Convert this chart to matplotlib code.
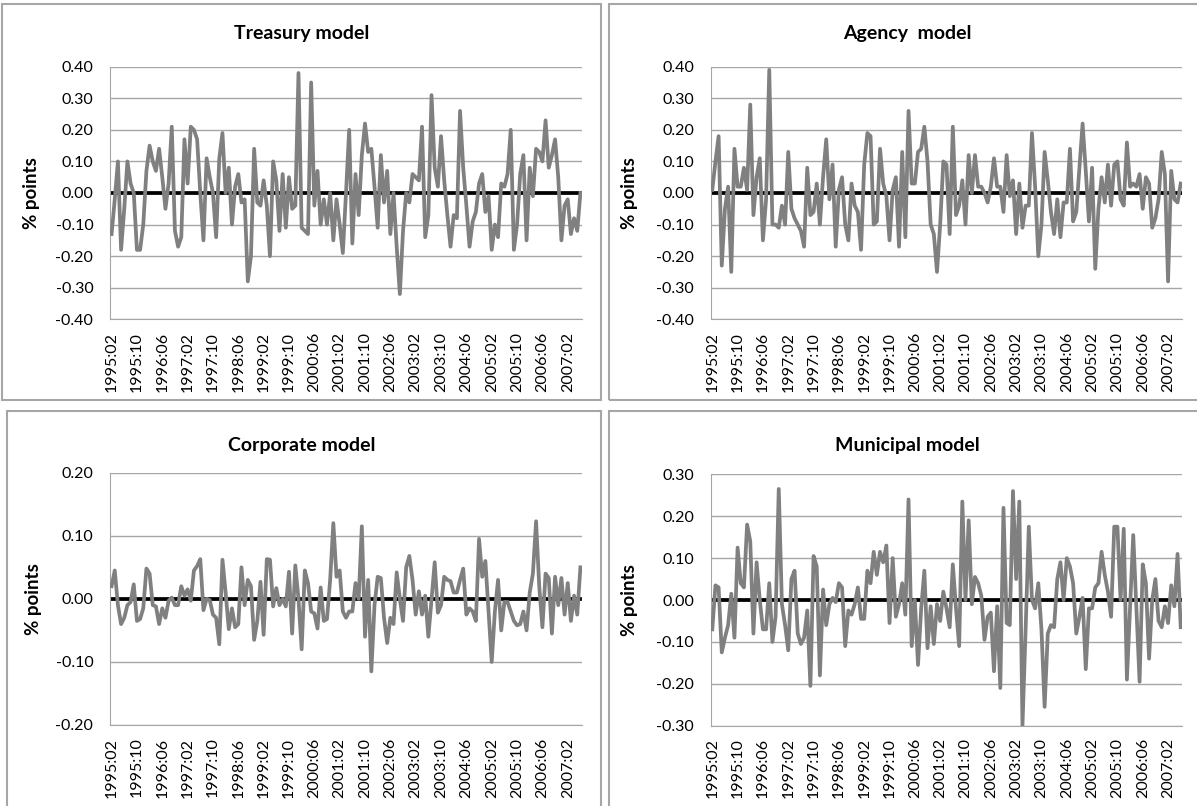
import matplotlib
matplotlib.use("Agg")
import matplotlib.pyplot as plt
from matplotlib.patches import Rectangle

plt.rcParams['font.family'] = ['Lato', 'DejaVu Sans']

# monthly categories 1995:02 .. 2007:06
months = []
for y in range(1995, 2008):
    for m in range(1, 13):
        if (y == 1995 and m < 2) or (y == 2007 and m > 6):
            continue
        months.append("%d:%02d" % (y, m))

treasury = [-0.13, -0.02, 0.10, -0.18, -0.05, 0.10, 0.03, 0.00, -0.18, -0.18,
            -0.10, 0.07, 0.15, 0.10, 0.07, 0.14, 0.05, -0.05, 0.03, 0.21,
            -0.12, -0.17, -0.14, 0.17, 0.03, 0.21, 0.20, 0.17, 0.00, -0.15,
            0.11, 0.05, 0.00, -0.14, 0.11, 0.19, 0.00, 0.08, -0.10, 0.02,
            0.06, -0.03, -0.02, -0.28, -0.20, 0.14, -0.03, -0.04, 0.04, -0.04,
            -0.20, 0.10, 0.04, -0.12, 0.06, -0.11, 0.05, -0.05, -0.04, 0.38,
            -0.11, -0.12, -0.13, 0.35, -0.04, 0.07, -0.10, -0.02, -0.10, 0.00,
            -0.15, -0.02, -0.10, -0.19, 0.00, 0.20, -0.16, 0.06, -0.07, 0.12,
            0.22, 0.13, 0.14, 0.02, -0.11, 0.12, -0.03, 0.07, -0.13, 0.00,
            -0.17, -0.32, -0.12, 0.00, -0.03, 0.06, 0.05, 0.04, 0.21, -0.14,
            -0.07, 0.31, 0.08, 0.02, 0.18, 0.04, -0.07, -0.17, -0.07, -0.08,
            0.26, 0.08, -0.04, -0.17, -0.09, -0.06, 0.03, 0.06, -0.06, -0.01,
            -0.18, -0.10, -0.14, 0.03, 0.02, 0.06, 0.20, -0.18, -0.10, 0.06,
            0.12, -0.15, 0.08, -0.01, 0.14, 0.13, 0.10, 0.23, 0.08, 0.12,
            0.17, 0.05, -0.15, -0.04, -0.02, -0.13, -0.08, -0.12, 0.00]

agency = [0.01, 0.10, 0.18, -0.23, -0.05, 0.02, -0.25, 0.14, 0.02, 0.02,
          0.08, 0.01, 0.28, -0.07, 0.05, 0.11, -0.15, -0.02, 0.39, -0.10,
          -0.10, -0.11, -0.04, -0.10, 0.13, -0.05, -0.08, -0.10, -0.12, -0.17,
          0.08, -0.07, -0.06, 0.03, -0.10, 0.05, 0.17, -0.02, 0.09, -0.17,
          0.01, 0.05, -0.10, -0.15, 0.03, -0.04, -0.06, -0.18, 0.09, 0.19,
          0.18, -0.10, -0.09, 0.14, 0.03, -0.01, -0.15, 0.01, 0.05, -0.17,
          0.13, -0.14, 0.26, 0.03, 0.03, 0.13, 0.14, 0.21, 0.10, -0.10,
          -0.13, -0.25, -0.10, 0.10, 0.09, -0.13, 0.21, -0.07, -0.04, 0.04,
          -0.10, 0.12, 0.00, 0.12, 0.02, 0.02, 0.00, -0.03, 0.02, 0.11,
          0.02, 0.02, -0.06, 0.12, -0.01, 0.04, -0.13, 0.03, -0.11, -0.04,
          -0.04, 0.19, 0.02, -0.20, -0.10, 0.13, 0.04, -0.06, -0.13, -0.02,
          -0.14, -0.03, -0.03, 0.14, -0.09, -0.06, 0.08, 0.22, 0.07, -0.09,
          0.08, -0.24, -0.05, 0.05, -0.03, 0.09, -0.04, 0.09, 0.10, -0.02,
          -0.04, 0.16, 0.02, 0.03, 0.02, 0.06, -0.05, 0.05, 0.03, -0.11,
          -0.08, -0.02, 0.13, 0.06, -0.28, 0.07, -0.02, -0.03, 0.03]

corporate = [0.020, 0.045, -0.010, -0.040, -0.030, -0.010, -0.005, 0.023, -0.035, -0.032,
             -0.015, 0.048, 0.040, -0.010, -0.012, -0.040, -0.015, -0.030, -0.003, 0.002,
             -0.010, -0.010, 0.020, 0.005, 0.015, -0.003, 0.045, 0.052, 0.063, -0.018,
             0.000, -0.002, -0.025, -0.030, -0.072, 0.062, 0.010, -0.048, -0.015, -0.045,
             -0.040, 0.050, -0.010, 0.030, 0.020, -0.065, -0.035, 0.027, -0.057, 0.063,
             0.062, -0.012, 0.017, -0.010, 0.000, -0.012, 0.043, -0.055, 0.053, 0.000,
             -0.080, 0.045, 0.025, -0.020, -0.023, -0.047, 0.018, -0.035, -0.032, 0.030,
             0.120, 0.035, 0.045, -0.020, -0.030, -0.020, -0.020, 0.025, 0.000, 0.115,
             -0.060, 0.030, -0.115, -0.010, 0.035, 0.033, -0.030, -0.070, -0.030, -0.040,
             0.042, 0.000, -0.035, 0.050, 0.068, 0.030, -0.025, 0.012, -0.025, 0.005,
             -0.060, 0.000, 0.058, -0.022, -0.010, 0.035, 0.030, 0.028, 0.010, 0.010,
             0.030, 0.048, -0.025, -0.015, -0.020, -0.035, 0.095, 0.035, 0.060, -0.020,
             -0.100, -0.020, 0.030, -0.050, -0.005, -0.005, -0.020, -0.035, -0.042, -0.040,
             -0.020, -0.050, 0.010, 0.040, 0.123, 0.020, -0.045, 0.040, 0.033, -0.055,
             0.035, -0.010, 0.033, -0.025, 0.025, -0.035, 0.005, -0.025, 0.050]

municipal = [-0.070, 0.035, 0.030, -0.125, -0.090, -0.060, 0.015, -0.090, 0.125, 0.040,
             0.030, 0.180, 0.140, -0.080, 0.090, 0.000, -0.070, -0.070, 0.040, -0.100,
             -0.040, 0.265, -0.010, -0.060, -0.120, 0.050, 0.070, -0.080, -0.105, -0.090,
             -0.025, -0.205, 0.105, 0.080, -0.180, 0.025, -0.060, -0.010, 0.005, -0.005,
             0.040, 0.030, -0.110, -0.025, -0.035, -0.010, 0.030, -0.045, -0.045, 0.070,
             0.040, 0.115, 0.060, 0.115, 0.090, 0.130, -0.055, 0.100, -0.040, -0.010,
             0.040, -0.035, 0.240, -0.110, 0.000, -0.155, -0.020, 0.070, -0.115, -0.015,
             -0.105, -0.010, -0.050, 0.020, -0.020, -0.065, 0.085, -0.020, -0.110, 0.235,
             0.000, 0.190, -0.010, 0.055, 0.040, 0.010, -0.095, -0.040, -0.030, -0.170,
             -0.015, -0.210, 0.220, -0.055, -0.060, 0.260, 0.050, 0.235, -0.300, -0.070,
             0.175, 0.000, -0.020, 0.040, -0.070, -0.255, -0.080, -0.060, -0.065, 0.050,
             0.090, 0.000, 0.100, 0.080, 0.040, -0.080, -0.040, 0.005, -0.165, -0.020,
             -0.020, 0.030, 0.040, 0.115, 0.060, 0.020, -0.040, 0.175, 0.175, 0.000,
             0.170, -0.190, -0.020, 0.155, -0.020, -0.195, 0.085, 0.040, -0.140, 0.000,
             0.050, -0.050, -0.065, -0.015, -0.055, 0.035, -0.015, 0.110, -0.065]

W, H = 1197, 806
fig = plt.figure(figsize=(W / 100, H / 100), dpi=100)

# panel frames (pixels: left, top, right, bottom)
frames = [(2, 4, 601, 400), (609, 4, 1210, 400), (7, 411, 601, 820), (609, 411, 1210, 820)]
for l, t, r, b in frames:
    fig.patches.append(Rectangle((l / W, 1 - b / H), (r - l) / W, (b - t) / H,
                                 transform=fig.transFigure, fill=False,
                                 edgecolor='#a6a6a6', linewidth=1.5))

panels = [
    ("Treasury model", treasury, (110, 66.7, 582, 319.3), 0.40, 0.10, 302, 33, 32),
    ("Agency  model", agency, (710.7, 66.7, 1182.3, 319.3), 0.40, 0.10, 907, 33, 629),
    ("Corporate model", corporate, (110, 472.7, 582, 725), 0.20, 0.10, 302, 445, 33),
    ("Municipal model", municipal, (710.7, 474.3, 1182.3, 725.7), 0.30, 0.10, 907, 445, 629),
]

x = list(range(len(months)))
for title, vals, (l, t, r, b), lim, step, tx, ty, lx in panels:
    ax = fig.add_axes([l / W, 1 - b / H, (r - l) / W, (b - t) / H])
    ax.plot(x, [0] * len(x), color='black', linewidth=2.7, zorder=2)
    ax.plot(x, vals, color='#808080', linewidth=2.7, zorder=3)
    ax.set_xlim(-0.5, len(x) - 0.5)
    ax.set_ylim(-lim, lim)
    n = int(round(lim / step))
    yt = [k * step for k in range(-n, n + 1)]
    ax.set_yticks(yt)
    ax.set_yticklabels(["%.2f" % v if abs(v) > 1e-9 else "0.00" for v in yt])
    ax.set_xticks(x[::8])
    ax.set_xticklabels(months[::8], rotation=90)
    ax.tick_params(axis='both', length=0, labelsize=11.5, labelcolor='black')
    ax.tick_params(axis='y', pad=12)
    ax.tick_params(axis='x', pad=9)
    ax.grid(axis='y', color='#a6a6a6', linewidth=1)
    ax.set_axisbelow(True)
    for s in ['top', 'right']:
        ax.spines[s].set_visible(False)
    ax.spines['left'].set_color('#a6a6a6')
    ax.spines['bottom'].set_color('#a6a6a6')
    fig.text(tx / W, 1 - ty / H, title, ha='center', va='center', fontsize=14, fontweight='bold')
    fig.text(lx / W, 1 - (t + b) / 2 / H, "% points", ha='center', va='center', rotation=90,
             fontsize=13.5, fontweight='bold')

fig.savefig("out.png", dpi=100)
